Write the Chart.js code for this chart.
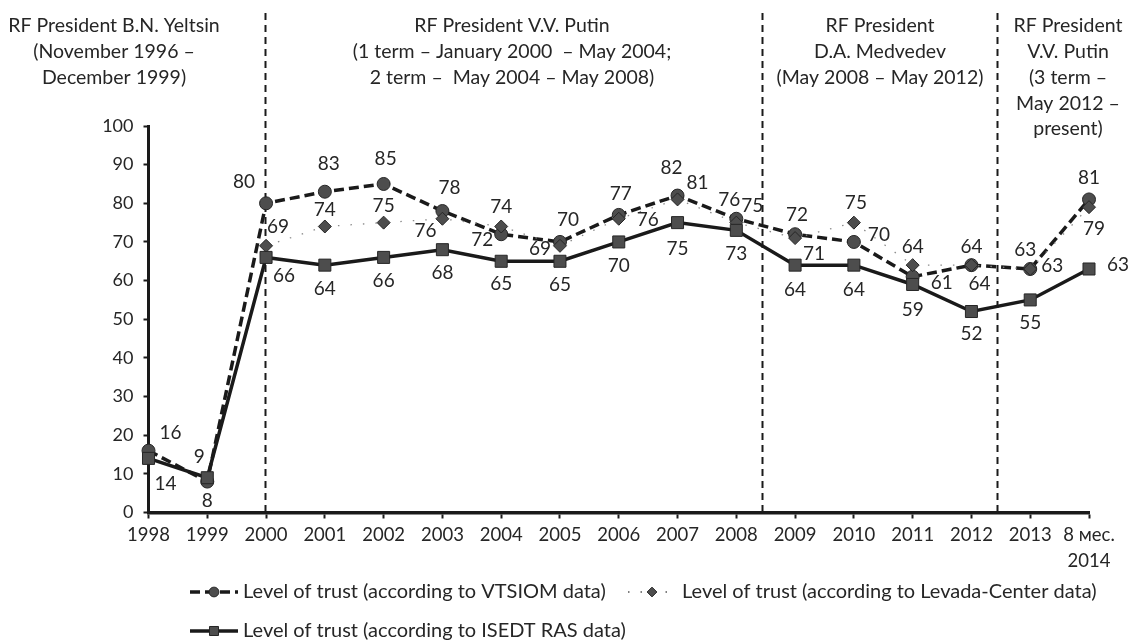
<!DOCTYPE html>
<html><head><meta charset="utf-8">
<script src="https://cdn.jsdelivr.net/npm/chart.js@4.4.0/dist/chart.umd.min.js"></script>
<style>html,body{margin:0;padding:0;background:#fff;}#wrap{width:1136px;height:641px;position:relative;}</style>
</head><body><div id="wrap"><canvas id="c" width="1136" height="641"></canvas></div>
<script>
// ---- data ----
const categories = ['1998','1999','2000','2001','2002','2003','2004','2005','2006','2007','2008','2009','2010','2011','2012','2013',['8 мес.','2014']];
const vtsiom = [16,8,80,83,85,78,72,70,77,82,76,72,70,61,64,63,81];
const levada = [null,null,69,74,75,76,74,69,76,81,75,71,75,64,64,63,79];
const isedt  = [14,9,66,64,66,68,65,65,70,75,73,64,64,59,52,55,63];
const seriesNames = [
  'Level of trust (according to VTSIOM data)',
  'Level of trust (according to Levada-Center data)',
  'Level of trust (according to ISEDT RAS data)'
];
const periodTitles = [
  ['RF President B.N. Yeltsin','(November 1996 –','December 1999)'],
  ['RF President V.V. Putin','(1 term – January 2000  – May 2004;','2 term –  May 2004 – May 2008)'],
  ['RF President','D.A. Medvedev','(May 2008 – May 2012)'],
  ['RF President','V.V. Putin','(3 term –','May 2012 –','present)']
];
const periodBoundaries = [2, 10.45, 14.45]; // positions on the category axis (index units)

// ---- layout / style (not data) ----
const FONT = 'Lato, "Open Sans", sans-serif';
const TXT = '#262626';
const headerCenters = [114, 512, 880, 1068];
const labelOffsets = [
  [[22,-18],[0,19],[-22,-21],[4,-28],[2,-25],[7,-23],[-19,6],[8,-22],[2,-21],[-6,-28],[-7,-19],[2,-19],[25,-7],[29,6],[8,19],[-5,-19],[0,-22]],
  [null,null,[12,-19],[0,-17],[0,-17],[-17,12],[0,-20],[-20,3],[29,1],[20,-17],[16,-17],[19,16],[2,-20],[0,-18],[0,-18],[22,-3],[5,22]],
  [[17,25],[-8,-21],[18,18],[0,24],[0,23],[0,23],[0,23],[0,24],[0,24],[0,26],[0,24],[0,25],[0,25],[0,25],[0,22],[0,23],[29,-4]]
];

const extras = {
  id: 'extras',
  beforeDatasetsDraw(chart) {
    const {ctx, scales:{x, y}} = chart;
    ctx.save();
    ctx.strokeStyle = '#1a1a1a';
    ctx.lineWidth = 2;
    ctx.setLineDash([7,5]);
    periodBoundaries.forEach(b => {
      const px = Math.round(x.getPixelForValue(b)) - 0.5;
      ctx.beginPath();
      ctx.moveTo(px, 13);
      ctx.lineTo(px, y.getPixelForValue(0));
      ctx.stroke();
    });
    ctx.restore();
  },
  afterDatasetsDraw(chart) {
    const {ctx} = chart;
    ctx.save();
    ctx.font = '19px ' + FONT;
    ctx.fillStyle = TXT;
    ctx.textAlign = 'center';
    ctx.textBaseline = 'middle';
    chart.data.datasets.forEach((ds, di) => {
      const meta = chart.getDatasetMeta(di);
      meta.data.forEach((pt, i) => {
        const v = ds.data[i];
        if (v === null || v === undefined) return;
        const off = labelOffsets[di][i] || [0,-18];
        ctx.fillText(String(v), pt.x + off[0], pt.y + off[1]);
      });
    });
    ctx.restore();
  },
  afterDraw(chart) {
    const {ctx} = chart;
    ctx.save();
    // period headers
    ctx.font = '19.5px ' + FONT;
    ctx.fillStyle = TXT;
    ctx.textAlign = 'center';
    ctx.textBaseline = 'middle';
    periodTitles.forEach((lines, k) => {
      lines.forEach((t, j) => ctx.fillText(t, headerCenters[k], 26 + j * 25.8));
    });
    // legend
    const items = [
      {ds:0, x0:190, x1:238, tx:243, y:592},
      {ds:1, x0:628, x1:676, tx:682, y:592},
      {ds:2, x0:190, x1:238, tx:243, y:631}
    ];
    items.forEach(it => {
      const ds = chart.data.datasets[it.ds];
      ctx.save();
      ctx.strokeStyle = ds.legendLineColor || ds.borderColor;
      ctx.lineWidth = ds.borderWidth;
      ctx.setLineDash(ds.borderDash || []);
      ctx.beginPath();
      ctx.moveTo(it.x0, it.y);
      ctx.lineTo(it.x1, it.y);
      ctx.stroke();
      ctx.setLineDash([]);
      ctx.fillStyle = ds.pointBackgroundColor;
      ctx.strokeStyle = ds.pointBorderColor;
      ctx.lineWidth = 1;
      Chart.helpers.drawPoint(ctx, {pointStyle: ds.pointStyle, radius: ds.pointRadius * 0.75, borderWidth: 1}, (it.x0 + it.x1) / 2, it.y);
      ctx.restore();
      ctx.font = '20px ' + FONT;
      ctx.fillStyle = TXT;
      ctx.textAlign = 'left';
      ctx.textBaseline = 'middle';
      ctx.fillText(ds.label, it.tx, it.y);
    });
    ctx.restore();
  }
};

new Chart(document.getElementById('c'), {
  type: 'line',
  data: {
    labels: categories,
    datasets: [
      {label: seriesNames[0], data: vtsiom, order: 2, borderColor: '#1a1a1a', borderWidth: 3.5, borderDash: [10,5],
       pointStyle: 'circle', pointRadius: 6.5, pointBackgroundColor: '#4d4d4d', pointBorderColor: '#262626', pointBorderWidth: 1, clip: false},
      {label: seriesNames[1], data: levada, order: 1, borderColor: '#8a8a8a', legendLineColor: '#555555', borderWidth: 1.3, borderDash: [1.5,11],
       pointStyle: 'rectRot', pointRadius: 6.5, pointBackgroundColor: '#4d4d4d', pointBorderColor: '#262626', pointBorderWidth: 1, clip: false},
      {label: seriesNames[2], data: isedt, order: 0, borderColor: '#1a1a1a', borderWidth: 3.5,
       pointStyle: 'rect', pointRadius: 8.5, pointBackgroundColor: '#4d4d4d', pointBorderColor: '#262626', pointBorderWidth: 1, clip: false}
    ]
  },
  options: {
    responsive: false,
    animation: false,
    layout: {padding: {left: 0, top: 126, right: 47, bottom: 0}},
    plugins: {legend: {display: false}, tooltip: {enabled: false}},
    scales: {
      x: {
        offset: false,
        afterFit: s => { s.height = 128.5; },
        border: {color: '#1a1a1a', width: 3.5},
        grid: {display: true, drawOnChartArea: false, drawTicks: true, tickLength: 6, tickWidth: 2, tickColor: '#1a1a1a', offset: false},
        ticks: {color: TXT, font: {family: FONT, size: 18.5, lineHeight: 1.4}, maxRotation: 0, autoSkip: false, padding: 4}
      },
      y: {
        min: 0, max: 100,
        afterFit: s => { s.width = 148.5; },
        border: {color: '#1a1a1a', width: 3},
        grid: {display: true, drawOnChartArea: false, drawTicks: true, tickLength: 5, tickWidth: 2, tickColor: '#1a1a1a'},
        ticks: {stepSize: 10, color: TXT, font: {family: FONT, size: 18}, padding: 10}
      }
    }
  },
  plugins: [extras]
});
</script>
</body></html>
